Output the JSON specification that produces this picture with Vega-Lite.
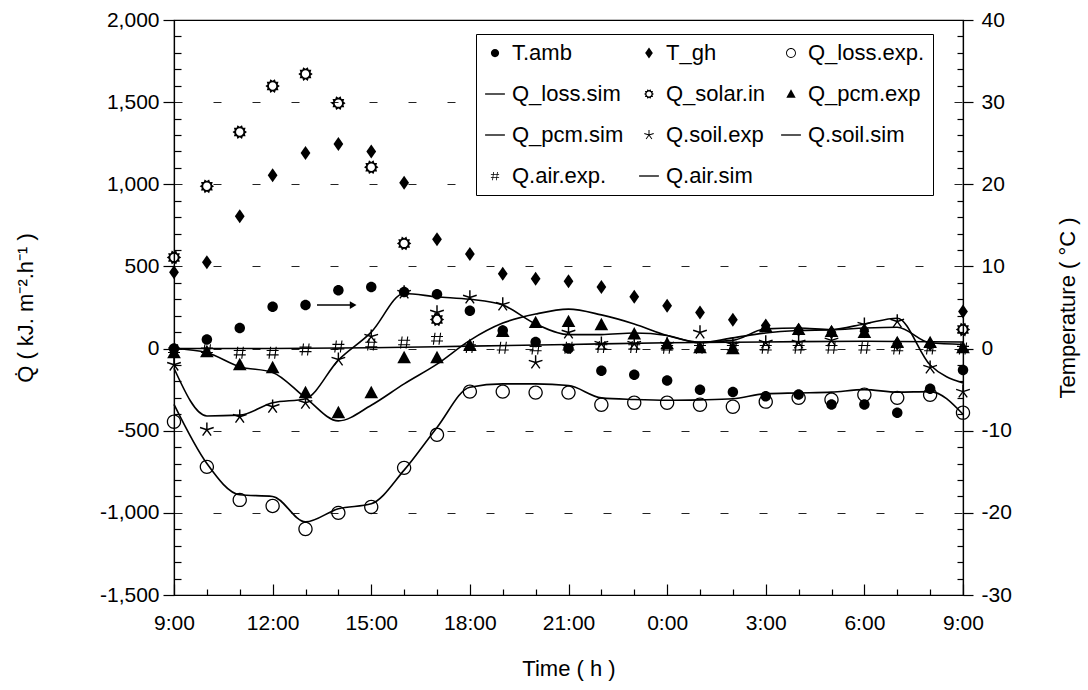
{
  "$schema": "https://vega.github.io/schema/vega-lite/v6.json",
  "width": 789,
  "height": 575,
  "autosize": "none",
  "padding": {"left": 174, "top": 20, "right": 125, "bottom": 95},
  "background": "white",
  "config": {
    "font": "Liberation Sans",
    "view": {"stroke": "black", "strokeWidth": 1.2},
    "axis": {
      "labelFont": "Liberation Sans",
      "labelFontSize": 21,
      "labelColor": "black",
      "titleFont": "Liberation Sans",
      "titleFontSize": 22,
      "titleFontWeight": "normal",
      "titleColor": "black",
      "domainColor": "black",
      "domainWidth": 1.2,
      "tickColor": "black",
      "tickWidth": 1.2,
      "labelOverlap": false,
      "labelFlush": false,
      "labelBound": false
    },
    "legend": {
      "orient": "none",
      "legendX": 302,
      "legendY": 14,
      "columns": 3,
      "direction": "horizontal",
      "labelFont": "Liberation Sans",
      "labelFontSize": 22,
      "labelColor": "black",
      "labelLimit": 0,
      "labelOffset": 6,
      "symbolSize": 121,
      "symbolFillColor": "black",
      "symbolStrokeWidth": 0,
      "rowPadding": 19,
      "columnPadding": 14,
      "padding": 8,
      "strokeColor": "black",
      "fillColor": "white"
    }
  },
  "datasets": {
    "q": [
      {"h": 0, "series": "Q_loss.exp.", "Q": -445}, {"h": 1, "series": "Q_loss.exp.", "Q": -720}, {"h": 2, "series": "Q_loss.exp.", "Q": -921}, {"h": 3, "series": "Q_loss.exp.", "Q": -958}, {"h": 4, "series": "Q_loss.exp.", "Q": -1098}, {"h": 5, "series": "Q_loss.exp.", "Q": -1000}, {"h": 6, "series": "Q_loss.exp.", "Q": -964}, {"h": 7, "series": "Q_loss.exp.", "Q": -726}, {"h": 8, "series": "Q_loss.exp.", "Q": -525}, {"h": 9, "series": "Q_loss.exp.", "Q": -262}, {"h": 10, "series": "Q_loss.exp.", "Q": -262}, {"h": 11, "series": "Q_loss.exp.", "Q": -268}, {"h": 12, "series": "Q_loss.exp.", "Q": -268}, {"h": 13, "series": "Q_loss.exp.", "Q": -342}, {"h": 14, "series": "Q_loss.exp.", "Q": -330}, {"h": 15, "series": "Q_loss.exp.", "Q": -330}, {"h": 16, "series": "Q_loss.exp.", "Q": -342}, {"h": 17, "series": "Q_loss.exp.", "Q": -354}, {"h": 18, "series": "Q_loss.exp.", "Q": -323}, {"h": 19, "series": "Q_loss.exp.", "Q": -300}, {"h": 20, "series": "Q_loss.exp.", "Q": -311}, {"h": 21, "series": "Q_loss.exp.", "Q": -281}, {"h": 22, "series": "Q_loss.exp.", "Q": -300}, {"h": 23, "series": "Q_loss.exp.", "Q": -281}, {"h": 24, "series": "Q_loss.exp.", "Q": -390},
      {"h": 0, "series": "Q_solar.in", "Q": 555}, {"h": 1, "series": "Q_solar.in", "Q": 988}, {"h": 2, "series": "Q_solar.in", "Q": 1318}, {"h": 3, "series": "Q_solar.in", "Q": 1598}, {"h": 4, "series": "Q_solar.in", "Q": 1671}, {"h": 5, "series": "Q_solar.in", "Q": 1494}, {"h": 6, "series": "Q_solar.in", "Q": 1104}, {"h": 7, "series": "Q_solar.in", "Q": 640}, {"h": 8, "series": "Q_solar.in", "Q": 177}, {"h": 24, "series": "Q_solar.in", "Q": 116},
      {"h": 0, "series": "Q_pcm.exp", "Q": -25}, {"h": 1, "series": "Q_pcm.exp", "Q": -18}, {"h": 2, "series": "Q_pcm.exp", "Q": -98}, {"h": 3, "series": "Q_pcm.exp", "Q": -116}, {"h": 4, "series": "Q_pcm.exp", "Q": -268}, {"h": 5, "series": "Q_pcm.exp", "Q": -390}, {"h": 6, "series": "Q_pcm.exp", "Q": -268}, {"h": 7, "series": "Q_pcm.exp", "Q": -55}, {"h": 8, "series": "Q_pcm.exp", "Q": -55}, {"h": 9, "series": "Q_pcm.exp", "Q": 20}, {"h": 10, "series": "Q_pcm.exp", "Q": 104}, {"h": 11, "series": "Q_pcm.exp", "Q": 159}, {"h": 12, "series": "Q_pcm.exp", "Q": 165}, {"h": 13, "series": "Q_pcm.exp", "Q": 146}, {"h": 14, "series": "Q_pcm.exp", "Q": 90}, {"h": 15, "series": "Q_pcm.exp", "Q": 30}, {"h": 16, "series": "Q_pcm.exp", "Q": 6}, {"h": 17, "series": "Q_pcm.exp", "Q": 0}, {"h": 18, "series": "Q_pcm.exp", "Q": 134}, {"h": 19, "series": "Q_pcm.exp", "Q": 116}, {"h": 20, "series": "Q_pcm.exp", "Q": 104}, {"h": 21, "series": "Q_pcm.exp", "Q": 98}, {"h": 22, "series": "Q_pcm.exp", "Q": 37}, {"h": 23, "series": "Q_pcm.exp", "Q": 37}, {"h": 24, "series": "Q_pcm.exp", "Q": 6},
      {"h": 0, "series": "Q.soil.exp", "Q": -98}, {"h": 1, "series": "Q.soil.exp", "Q": -494}, {"h": 2, "series": "Q.soil.exp", "Q": -415}, {"h": 3, "series": "Q.soil.exp", "Q": -354}, {"h": 4, "series": "Q.soil.exp", "Q": -330}, {"h": 5, "series": "Q.soil.exp", "Q": -67}, {"h": 6, "series": "Q.soil.exp", "Q": 73}, {"h": 7, "series": "Q.soil.exp", "Q": 341}, {"h": 8, "series": "Q.soil.exp", "Q": 220}, {"h": 9, "series": "Q.soil.exp", "Q": 311}, {"h": 10, "series": "Q.soil.exp", "Q": 268}, {"h": 11, "series": "Q.soil.exp", "Q": -85}, {"h": 12, "series": "Q.soil.exp", "Q": 98}, {"h": 13, "series": "Q.soil.exp", "Q": 30}, {"h": 14, "series": "Q.soil.exp", "Q": 30}, {"h": 15, "series": "Q.soil.exp", "Q": 25}, {"h": 16, "series": "Q.soil.exp", "Q": 98}, {"h": 17, "series": "Q.soil.exp", "Q": 25}, {"h": 18, "series": "Q.soil.exp", "Q": 37}, {"h": 19, "series": "Q.soil.exp", "Q": 37}, {"h": 20, "series": "Q.soil.exp", "Q": 50}, {"h": 21, "series": "Q.soil.exp", "Q": 146}, {"h": 22, "series": "Q.soil.exp", "Q": 165}, {"h": 23, "series": "Q.soil.exp", "Q": -116}, {"h": 24, "series": "Q.soil.exp", "Q": -262},
      {"h": 0, "series": "Q.air.exp.", "Q": -10}, {"h": 1, "series": "Q.air.exp.", "Q": -10}, {"h": 2, "series": "Q.air.exp.", "Q": -25}, {"h": 3, "series": "Q.air.exp.", "Q": -25}, {"h": 4, "series": "Q.air.exp.", "Q": -5}, {"h": 5, "series": "Q.air.exp.", "Q": 12}, {"h": 6, "series": "Q.air.exp.", "Q": 25}, {"h": 7, "series": "Q.air.exp.", "Q": 37}, {"h": 8, "series": "Q.air.exp.", "Q": 60}, {"h": 9, "series": "Q.air.exp.", "Q": 10}, {"h": 10, "series": "Q.air.exp.", "Q": 5}, {"h": 11, "series": "Q.air.exp.", "Q": 0}, {"h": 12, "series": "Q.air.exp.", "Q": 5}, {"h": 13, "series": "Q.air.exp.", "Q": 10}, {"h": 14, "series": "Q.air.exp.", "Q": 10}, {"h": 15, "series": "Q.air.exp.", "Q": 5}, {"h": 16, "series": "Q.air.exp.", "Q": 5}, {"h": 17, "series": "Q.air.exp.", "Q": 5}, {"h": 18, "series": "Q.air.exp.", "Q": 5}, {"h": 19, "series": "Q.air.exp.", "Q": 5}, {"h": 20, "series": "Q.air.exp.", "Q": 5}, {"h": 21, "series": "Q.air.exp.", "Q": 5}, {"h": 22, "series": "Q.air.exp.", "Q": 0}, {"h": 23, "series": "Q.air.exp.", "Q": 0}, {"h": 24, "series": "Q.air.exp.", "Q": 0}
    ],
    "sim": [
      {"h": 0, "series": "Q_loss.sim", "Q": -340}, {"h": 1, "series": "Q_loss.sim", "Q": -700}, {"h": 2, "series": "Q_loss.sim", "Q": -890}, {"h": 3, "series": "Q_loss.sim", "Q": -900}, {"h": 4, "series": "Q_loss.sim", "Q": -1055}, {"h": 5, "series": "Q_loss.sim", "Q": -975}, {"h": 6, "series": "Q_loss.sim", "Q": -945}, {"h": 7, "series": "Q_loss.sim", "Q": -740}, {"h": 8, "series": "Q_loss.sim", "Q": -480}, {"h": 9, "series": "Q_loss.sim", "Q": -235}, {"h": 10, "series": "Q_loss.sim", "Q": -215}, {"h": 11, "series": "Q_loss.sim", "Q": -215}, {"h": 12, "series": "Q_loss.sim", "Q": -225}, {"h": 13, "series": "Q_loss.sim", "Q": -300}, {"h": 14, "series": "Q_loss.sim", "Q": -310}, {"h": 15, "series": "Q_loss.sim", "Q": -315}, {"h": 16, "series": "Q_loss.sim", "Q": -312}, {"h": 17, "series": "Q_loss.sim", "Q": -305}, {"h": 18, "series": "Q_loss.sim", "Q": -275}, {"h": 19, "series": "Q_loss.sim", "Q": -270}, {"h": 20, "series": "Q_loss.sim", "Q": -265}, {"h": 21, "series": "Q_loss.sim", "Q": -250}, {"h": 22, "series": "Q_loss.sim", "Q": -265}, {"h": 23, "series": "Q_loss.sim", "Q": -262}, {"h": 24, "series": "Q_loss.sim", "Q": -400},
      {"h": 0, "series": "Q_pcm.sim", "Q": 0}, {"h": 1, "series": "Q_pcm.sim", "Q": -25}, {"h": 2, "series": "Q_pcm.sim", "Q": -110}, {"h": 3, "series": "Q_pcm.sim", "Q": -145}, {"h": 4, "series": "Q_pcm.sim", "Q": -300}, {"h": 5, "series": "Q_pcm.sim", "Q": -440}, {"h": 6, "series": "Q_pcm.sim", "Q": -345}, {"h": 7, "series": "Q_pcm.sim", "Q": -215}, {"h": 8, "series": "Q_pcm.sim", "Q": -95}, {"h": 9, "series": "Q_pcm.sim", "Q": 50}, {"h": 10, "series": "Q_pcm.sim", "Q": 155}, {"h": 11, "series": "Q_pcm.sim", "Q": 210}, {"h": 12, "series": "Q_pcm.sim", "Q": 240}, {"h": 13, "series": "Q_pcm.sim", "Q": 205}, {"h": 14, "series": "Q_pcm.sim", "Q": 150}, {"h": 15, "series": "Q_pcm.sim", "Q": 80}, {"h": 16, "series": "Q_pcm.sim", "Q": 40}, {"h": 17, "series": "Q_pcm.sim", "Q": 50}, {"h": 18, "series": "Q_pcm.sim", "Q": 120}, {"h": 19, "series": "Q_pcm.sim", "Q": 125}, {"h": 20, "series": "Q_pcm.sim", "Q": 115}, {"h": 21, "series": "Q_pcm.sim", "Q": 125}, {"h": 22, "series": "Q_pcm.sim", "Q": 130}, {"h": 23, "series": "Q_pcm.sim", "Q": 35}, {"h": 24, "series": "Q_pcm.sim", "Q": 25},
      {"h": 0, "series": "Q.soil.sim", "Q": -120}, {"h": 1, "series": "Q.soil.sim", "Q": -410}, {"h": 2, "series": "Q.soil.sim", "Q": -405}, {"h": 3, "series": "Q.soil.sim", "Q": -330}, {"h": 4, "series": "Q.soil.sim", "Q": -305}, {"h": 5, "series": "Q.soil.sim", "Q": -70}, {"h": 6, "series": "Q.soil.sim", "Q": 100}, {"h": 7, "series": "Q.soil.sim", "Q": 335}, {"h": 8, "series": "Q.soil.sim", "Q": 315}, {"h": 9, "series": "Q.soil.sim", "Q": 300}, {"h": 10, "series": "Q.soil.sim", "Q": 265}, {"h": 11, "series": "Q.soil.sim", "Q": 150}, {"h": 12, "series": "Q.soil.sim", "Q": 85}, {"h": 13, "series": "Q.soil.sim", "Q": 85}, {"h": 14, "series": "Q.soil.sim", "Q": 95}, {"h": 15, "series": "Q.soil.sim", "Q": 80}, {"h": 16, "series": "Q.soil.sim", "Q": 35}, {"h": 17, "series": "Q.soil.sim", "Q": 65}, {"h": 18, "series": "Q.soil.sim", "Q": 95}, {"h": 19, "series": "Q.soil.sim", "Q": 110}, {"h": 20, "series": "Q.soil.sim", "Q": 115}, {"h": 21, "series": "Q.soil.sim", "Q": 150}, {"h": 22, "series": "Q.soil.sim", "Q": 185}, {"h": 23, "series": "Q.soil.sim", "Q": -100}, {"h": 24, "series": "Q.soil.sim", "Q": -210},
      {"h": 0, "series": "Q.air.sim", "Q": 0}, {"h": 3, "series": "Q.air.sim", "Q": 0}, {"h": 6, "series": "Q.air.sim", "Q": 5}, {"h": 9, "series": "Q.air.sim", "Q": 15}, {"h": 12, "series": "Q.air.sim", "Q": 25}, {"h": 15, "series": "Q.air.sim", "Q": 35}, {"h": 18, "series": "Q.air.sim", "Q": 40}, {"h": 21, "series": "Q.air.sim", "Q": 45}, {"h": 24, "series": "Q.air.sim", "Q": 40}
    ],
    "t": [
      {"h": 0, "series": "T.amb", "T": 0}, {"h": 1, "series": "T.amb", "T": 1.1}, {"h": 2, "series": "T.amb", "T": 2.5}, {"h": 3, "series": "T.amb", "T": 5.1}, {"h": 4, "series": "T.amb", "T": 5.3}, {"h": 5, "series": "T.amb", "T": 7.1}, {"h": 6, "series": "T.amb", "T": 7.5}, {"h": 7, "series": "T.amb", "T": 6.9}, {"h": 8, "series": "T.amb", "T": 6.6}, {"h": 9, "series": "T.amb", "T": 4.6}, {"h": 10, "series": "T.amb", "T": 2.2}, {"h": 11, "series": "T.amb", "T": 0.8}, {"h": 12, "series": "T.amb", "T": 0}, {"h": 13, "series": "T.amb", "T": -2.7}, {"h": 14, "series": "T.amb", "T": -3.2}, {"h": 15, "series": "T.amb", "T": -3.9}, {"h": 16, "series": "T.amb", "T": -5.0}, {"h": 17, "series": "T.amb", "T": -5.3}, {"h": 18, "series": "T.amb", "T": -5.8}, {"h": 19, "series": "T.amb", "T": -5.6}, {"h": 20, "series": "T.amb", "T": -6.8}, {"h": 21, "series": "T.amb", "T": -6.8}, {"h": 22, "series": "T.amb", "T": -7.8}, {"h": 23, "series": "T.amb", "T": -4.9}, {"h": 24, "series": "T.amb", "T": -2.6},
      {"h": 0, "series": "T_gh", "T": 9.3}, {"h": 1, "series": "T_gh", "T": 10.5}, {"h": 2, "series": "T_gh", "T": 16.1}, {"h": 3, "series": "T_gh", "T": 21.1}, {"h": 4, "series": "T_gh", "T": 23.8}, {"h": 5, "series": "T_gh", "T": 24.9}, {"h": 6, "series": "T_gh", "T": 24.0}, {"h": 7, "series": "T_gh", "T": 20.2}, {"h": 8, "series": "T_gh", "T": 13.3}, {"h": 9, "series": "T_gh", "T": 11.5}, {"h": 10, "series": "T_gh", "T": 9.1}, {"h": 11, "series": "T_gh", "T": 8.5}, {"h": 12, "series": "T_gh", "T": 8.2}, {"h": 13, "series": "T_gh", "T": 7.5}, {"h": 14, "series": "T_gh", "T": 6.3}, {"h": 15, "series": "T_gh", "T": 5.2}, {"h": 16, "series": "T_gh", "T": 4.4}, {"h": 17, "series": "T_gh", "T": 3.5}, {"h": 18, "series": "T_gh", "T": 2.8}, {"h": 19, "series": "T_gh", "T": 2.3}, {"h": 20, "series": "T_gh", "T": 2.0}, {"h": 21, "series": "T_gh", "T": 2.1}, {"h": 22, "series": "T_gh", "T": 0.6}, {"h": 23, "series": "T_gh", "T": 0.5}, {"h": 24, "series": "T_gh", "T": 4.5}
    ],
    "arrow": [
      {"h": 4.35, "T": 5.3, "end": false},
      {"h": 5.45, "T": 5.3, "end": true}
    ]
  },
  "encoding": {
    "x": {
      "field": "h",
      "type": "quantitative",
      "title": "Time ( h )",
      "scale": {"domain": [0, 24], "nice": false, "zero": false},
      "axis": {
        "values": [0,1,2,3,4,5,6,7,8,9,10,11,12,13,14,15,16,17,18,19,20,21,22,23,24],
        "labelExpr": "datum.value % 3 === 0 ? ((datum.value + 9) % 24) + ':00' : ''",
        "tickSize": {"condition": {"test": "datum.value % 3 === 0", "value": -11}, "value": -6},
        "labelPadding": 28,
        "titlePadding": 20,
        "grid": false
      }
    }
  },
  "layer": [
    {
      "encoding": {
        "y": {
          "field": "Q",
          "type": "quantitative",
          "title": "Q̇ ( kJ. m⁻².h⁻¹ )",
          "scale": {"domain": [-1500, 2000], "nice": false, "zero": false},
          "axis": {
            "orient": "left",
            "values": [-1500,-1400,-1300,-1200,-1100,-1000,-900,-800,-700,-600,-500,-400,-300,-200,-100,0,100,200,300,400,500,600,700,800,900,1000,1100,1200,1300,1400,1500,1600,1700,1800,1900,2000],
            "labelExpr": "datum.value % 500 === 0 ? replace(format(datum.value, ','), '\u2212', '-') : ''",
            "tickSize": {"condition": {"test": "datum.value % 500 === 0", "value": 11}, "value": -7},
            "labelPadding": 4,
            "titlePadding": 62,
            "grid": true,
            "gridColor": "#222",
            "gridDash": [8, 31],
            "gridWidth": 1,
            "gridOpacity": {"condition": {"test": "datum.value % 500 === 0 && datum.value > -1500 && datum.value < 2000", "value": 1}, "value": 0}
          }
        }
      },
      "layer": [
        {
          "data": {"name": "sim"},
          "mark": {"type": "line", "interpolate": "monotone", "color": "black", "strokeWidth": 1.6},
          "encoding": {"detail": {"field": "series", "type": "nominal"}}
        },
        {
          "data": {"name": "q"},
          "mark": {"type": "point", "filled": true, "color": "black", "strokeWidth": 0, "opacity": 1, "size": 256},
          "encoding": {
            "shape": {
              "field": "series",
              "type": "nominal",
              "scale": {
                "domain": ["T.amb", "T_gh", "Q_loss.exp.", "Q_loss.sim", "Q_solar.in", "Q_pcm.exp", "Q_pcm.sim", "Q.soil.exp", "Q.soil.sim", "Q.air.exp.", "Q.air.sim"],
                "range": [
                  "M-0.75,0A0.75,0.75 0 1,0 0.75,0A0.75,0.75 0 1,0 -0.75,0Z",
                  "M0,-1L0.7,0L0,1L-0.7,0Z",
                  "M-0.9,0A0.9,0.9 0 1,0 0.9,0A0.9,0.9 0 1,0 -0.9,0ZM-0.74,0A0.74,0.74 0 1,1 0.74,0A0.74,0.74 0 1,1 -0.74,0Z",
                  "M-1.8,-0.12L1.8,-0.12L1.8,0.12L-1.8,0.12Z",
                  "M0.9,0L0.63,0.2L0.73,0.53L0.39,0.53L0.28,0.86L0,0.66L-0.28,0.86L-0.39,0.53L-0.73,0.53L-0.63,0.2L-0.9,0L-0.63,-0.2L-0.73,-0.53L-0.39,-0.53L-0.28,-0.86L0,-0.66L0.28,-0.86L0.39,-0.53L0.73,-0.53L0.63,-0.2ZM-0.46,0A0.46,0.46 0 1,0 0.46,0A0.46,0.46 0 1,0 -0.46,0Z",
                  "M0,-0.85L0.85,0.7L-0.85,0.7Z",
                  "M-1.8,-0.12L1.8,-0.12L1.8,0.12L-1.8,0.12Z",
                  "M0.09,0L0.09,-0.9L-0.09,-0.9L-0.09,0ZM0.03,0.09L0.88,-0.19L0.83,-0.36L-0.03,-0.09ZM-0.07,0.05L0.46,0.78L0.6,0.68L0.07,-0.05ZM-0.07,-0.05L-0.6,0.68L-0.46,0.78L0.07,0.05ZM0.03,-0.09L-0.83,-0.36L-0.88,-0.19L-0.03,0.09Z",
                  "M-1.8,-0.12L1.8,-0.12L1.8,0.12L-1.8,0.12Z",
                  "M-0.32,-0.75L-0.18,-0.75L-0.38,0.75L-0.52,0.75ZM0.38,-0.75L0.52,-0.75L0.32,0.75L0.18,0.75ZM-0.75,-0.35L0.75,-0.35L0.75,-0.21L-0.75,-0.21ZM-0.75,0.21L0.75,0.21L0.75,0.35L-0.75,0.35Z",
                  "M-1.8,-0.12L1.8,-0.12L1.8,0.12L-1.8,0.12Z"
                ]
              },
              "legend": {"title": null}
            }
          }
        }
      ]
    },
    {
      "encoding": {
        "y": {
          "field": "T",
          "type": "quantitative",
          "title": "Temperature ( °C )",
          "scale": {"domain": [-30, 40], "nice": false, "zero": false},
          "axis": {
            "orient": "right",
            "values": [-30,-28,-26,-24,-22,-20,-18,-16,-14,-12,-10,-8,-6,-4,-2,0,2,4,6,8,10,12,14,16,18,20,22,24,26,28,30,32,34,36,38,40],
            "labelExpr": "datum.value % 10 === 0 ? '' + datum.value : ''",
            "tickSize": {"condition": {"test": "datum.value % 10 === 0", "value": 10}, "value": -6},
            "labelPadding": 8,
            "titlePadding": 68,
            "titleAngle": 270,
            "grid": false
          }
        }
      },
      "layer": [
        {
          "data": {"name": "t"},
          "mark": {"type": "point", "filled": true, "color": "black", "strokeWidth": 0, "opacity": 1, "size": 196},
          "encoding": {
            "shape": {
              "field": "series",
              "type": "nominal",
              "scale": {
                "domain": ["T.amb", "T_gh", "Q_loss.exp.", "Q_loss.sim", "Q_solar.in", "Q_pcm.exp", "Q_pcm.sim", "Q.soil.exp", "Q.soil.sim", "Q.air.exp.", "Q.air.sim"],
                "range": [
                  "M-0.75,0A0.75,0.75 0 1,0 0.75,0A0.75,0.75 0 1,0 -0.75,0Z",
                  "M0,-1L0.7,0L0,1L-0.7,0Z",
                  "M-0.9,0A0.9,0.9 0 1,0 0.9,0A0.9,0.9 0 1,0 -0.9,0ZM-0.74,0A0.74,0.74 0 1,1 0.74,0A0.74,0.74 0 1,1 -0.74,0Z",
                  "M-1.8,-0.12L1.8,-0.12L1.8,0.12L-1.8,0.12Z",
                  "M0.9,0L0.63,0.2L0.73,0.53L0.39,0.53L0.28,0.86L0,0.66L-0.28,0.86L-0.39,0.53L-0.73,0.53L-0.63,0.2L-0.9,0L-0.63,-0.2L-0.73,-0.53L-0.39,-0.53L-0.28,-0.86L0,-0.66L0.28,-0.86L0.39,-0.53L0.73,-0.53L0.63,-0.2ZM-0.46,0A0.46,0.46 0 1,0 0.46,0A0.46,0.46 0 1,0 -0.46,0Z",
                  "M0,-0.85L0.85,0.7L-0.85,0.7Z",
                  "M-1.8,-0.12L1.8,-0.12L1.8,0.12L-1.8,0.12Z",
                  "M0.09,0L0.09,-0.9L-0.09,-0.9L-0.09,0ZM0.03,0.09L0.88,-0.19L0.83,-0.36L-0.03,-0.09ZM-0.07,0.05L0.46,0.78L0.6,0.68L0.07,-0.05ZM-0.07,-0.05L-0.6,0.68L-0.46,0.78L0.07,0.05ZM0.03,-0.09L-0.83,-0.36L-0.88,-0.19L-0.03,0.09Z",
                  "M-1.8,-0.12L1.8,-0.12L1.8,0.12L-1.8,0.12Z",
                  "M-0.32,-0.75L-0.18,-0.75L-0.38,0.75L-0.52,0.75ZM0.38,-0.75L0.52,-0.75L0.32,0.75L0.18,0.75ZM-0.75,-0.35L0.75,-0.35L0.75,-0.21L-0.75,-0.21ZM-0.75,0.21L0.75,0.21L0.75,0.35L-0.75,0.35Z",
                  "M-1.8,-0.12L1.8,-0.12L1.8,0.12L-1.8,0.12Z"
                ]
              },
              "legend": {"title": null}
            }
          }
        },
        {
          "data": {"name": "arrow"},
          "mark": {"type": "line", "color": "black", "strokeWidth": 1.4},
          "encoding": {}
        },
        {
          "data": {"name": "arrow"},
          "transform": [{"filter": "datum.end"}],
          "mark": {"type": "point", "shape": "triangle-right", "filled": true, "color": "black", "size": 60, "opacity": 1},
          "encoding": {}
        }
      ]
    }
  ],
  "resolve": {"scale": {"y": "independent"}}
}
